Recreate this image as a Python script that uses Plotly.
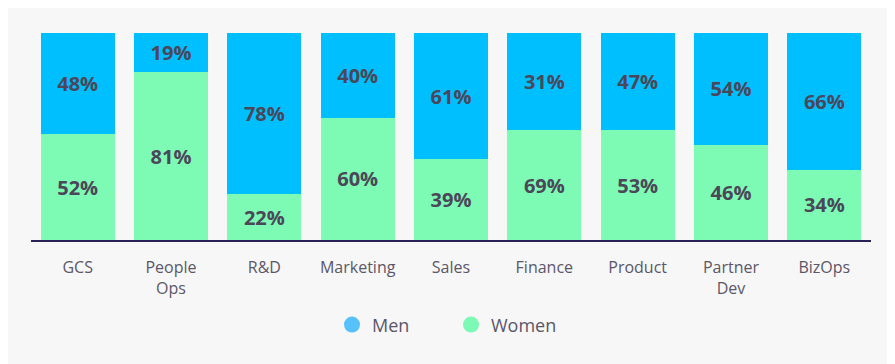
import plotly.graph_objects as go

categories = ["GCS", "People<br>Ops", "R&D", "Marketing", "Sales", "Finance", "Product", "Partner<br>Dev", "BizOps"]
# printed percentages
men_label = [48, 19, 78, 40, 61, 31, 47, 54, 66]
women_label = [52, 81, 22, 60, 39, 69, 53, 46, 34]
# segment heights as drawn in the picture (Finance is drawn shorter than its label)
men_height = [49, 19, 78, 41, 61, 47, 47, 54, 66]
women_height = [51, 81, 22, 59, 39, 53, 53, 46, 34]

MEN_COLOR = "#00BFFF"
WOMEN_COLOR = "#7DFAB4"
LABEL_COLOR = "#4B4658"
TICK_COLOR = "#5B5668"

fig = go.Figure()
fig.add_bar(
    x=categories, y=women_height, name="Women", marker=dict(color=WOMEN_COLOR, line=dict(width=0)),
    text=[f"{v}%" for v in women_label], textposition="inside", insidetextanchor="middle",
    textfont=dict(family="Open Sans", size=20, color=LABEL_COLOR, weight=700),
    constraintext="none", showlegend=False, hoverinfo="skip",
)
fig.add_bar(
    x=categories, y=men_height, name="Men", marker=dict(color=MEN_COLOR, line=dict(width=0)),
    text=[f"{v}%" for v in men_label], textposition="inside", insidetextanchor="middle",
    textfont=dict(family="Open Sans", size=20, color=LABEL_COLOR, weight=700),
    constraintext="none", showlegend=False, hoverinfo="skip",
)
# legend entries with circle symbols
fig.add_scatter(x=[None], y=[None], mode="markers", name="Men",
                marker=dict(symbol="circle", size=16, color="#56C1FA"))
fig.add_scatter(x=[None], y=[None], mode="markers", name="Women",
                marker=dict(symbol="circle", size=16, color="#7DF9B6"))

fig.update_layout(
    width=895, height=364,
    margin=dict(l=23, r=32, t=25, b=132),
    paper_bgcolor="#F7F7F7", plot_bgcolor="#F7F7F7",
    barmode="stack", bargap=0.21,
    font=dict(family="Open Sans", color=TICK_COLOR),
    showlegend=True,
    legend=dict(orientation="h", x=0.5, xanchor="center", y=-0.41, yanchor="middle",
                traceorder="normal",
                font=dict(size=18, color=TICK_COLOR), entrywidth=74, entrywidthmode="pixels",
                bgcolor="rgba(0,0,0,0)"),
    xaxis=dict(showline=True, linecolor="#2B2157", linewidth=2, ticks="", showgrid=False,
               tickfont=dict(size=16, color=TICK_COLOR), ticklabelstandoff=12, fixedrange=True),
    yaxis=dict(range=[0, 100], visible=False, showgrid=False, zeroline=False, fixedrange=True),
)

fig.write_html("out.html")
